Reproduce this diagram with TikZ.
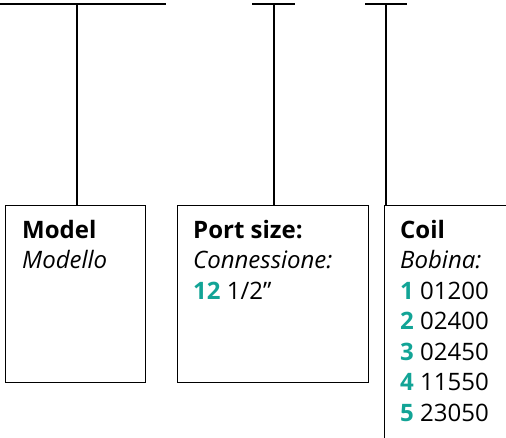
\documentclass[tikz,border=0pt]{standalone}
\usepackage{fontspec}
\setmainfont{Open Sans}
\usepackage{xcolor}
\usepackage{tikz}
\usetikzlibrary{positioning}

\definecolor{codeteal}{RGB}{18,164,150}
\newcommand{\code}[1]{\textbf{\textcolor{codeteal}{#1}}}

\begin{document}
\begin{tikzpicture}[
    x=1pt, y=-1pt,
    field/.style={rectangle, draw, line width=1.2pt, anchor=north west, inner sep=0pt},
    txt/.style={anchor=north west, align=left, inner sep=0pt, font=\fontsize{24}{30.5}\selectfont},
    bar/.style={line width=1.2pt},
]
    \useasboundingbox (0,0) rectangle (506,437);
    \clip (0,0) rectangle (506,437);

    % Boxes
    \node[field, minimum width=140pt, minimum height=177pt] (model) at (5,205) {};
    \node[field, minimum width=191pt, minimum height=177pt] (port) at (177,205) {};
    \node[field, minimum width=140pt, minimum height=250pt] (coil) at (384,205) {};

    % Texts
    \node[txt] (modeltxt) at (22,220) {\textbf{Model}\\\textit{Modello}};
    \node[txt] (porttxt) at (193,220) {\textbf{Port size:}\\\textit{Connessione:}\\\code{12} 1/2”};
    \node[txt] (coiltxt) at (400,220) {\textbf{Coil}\\\textit{Bobina:}\\\code{1} 01200\\\code{2} 02400\\\code{3} 02450\\\code{4} 11550\\\code{5} 23050};

    % Top bars
    \coordinate (modelbarl) at (0,4);
    \coordinate (modelbarr) at (166,4);
    \coordinate (modeltap) at (77,4);
    \coordinate (portbarl) at (252,4);
    \coordinate (portbarr) at (295,4);
    \coordinate (porttap) at (274,4);
    \coordinate (coilbarl) at (365,4);
    \coordinate (coilbarr) at (407,4);
    \coordinate (coiltap) at (386,4);

    \draw[bar] (modelbarl) -- (modelbarr);
    \draw[bar] (portbarl) -- (portbarr);
    \draw[bar] (coilbarl) -- (coilbarr);

    % Connectors
    \draw[bar] (modeltap) -- (modeltap |- model.north);
    \draw[bar] (porttap) -- (porttap |- port.north);
    \draw[bar] (coiltap) -- (coiltap |- coil.north);

\end{tikzpicture}
\end{document}
